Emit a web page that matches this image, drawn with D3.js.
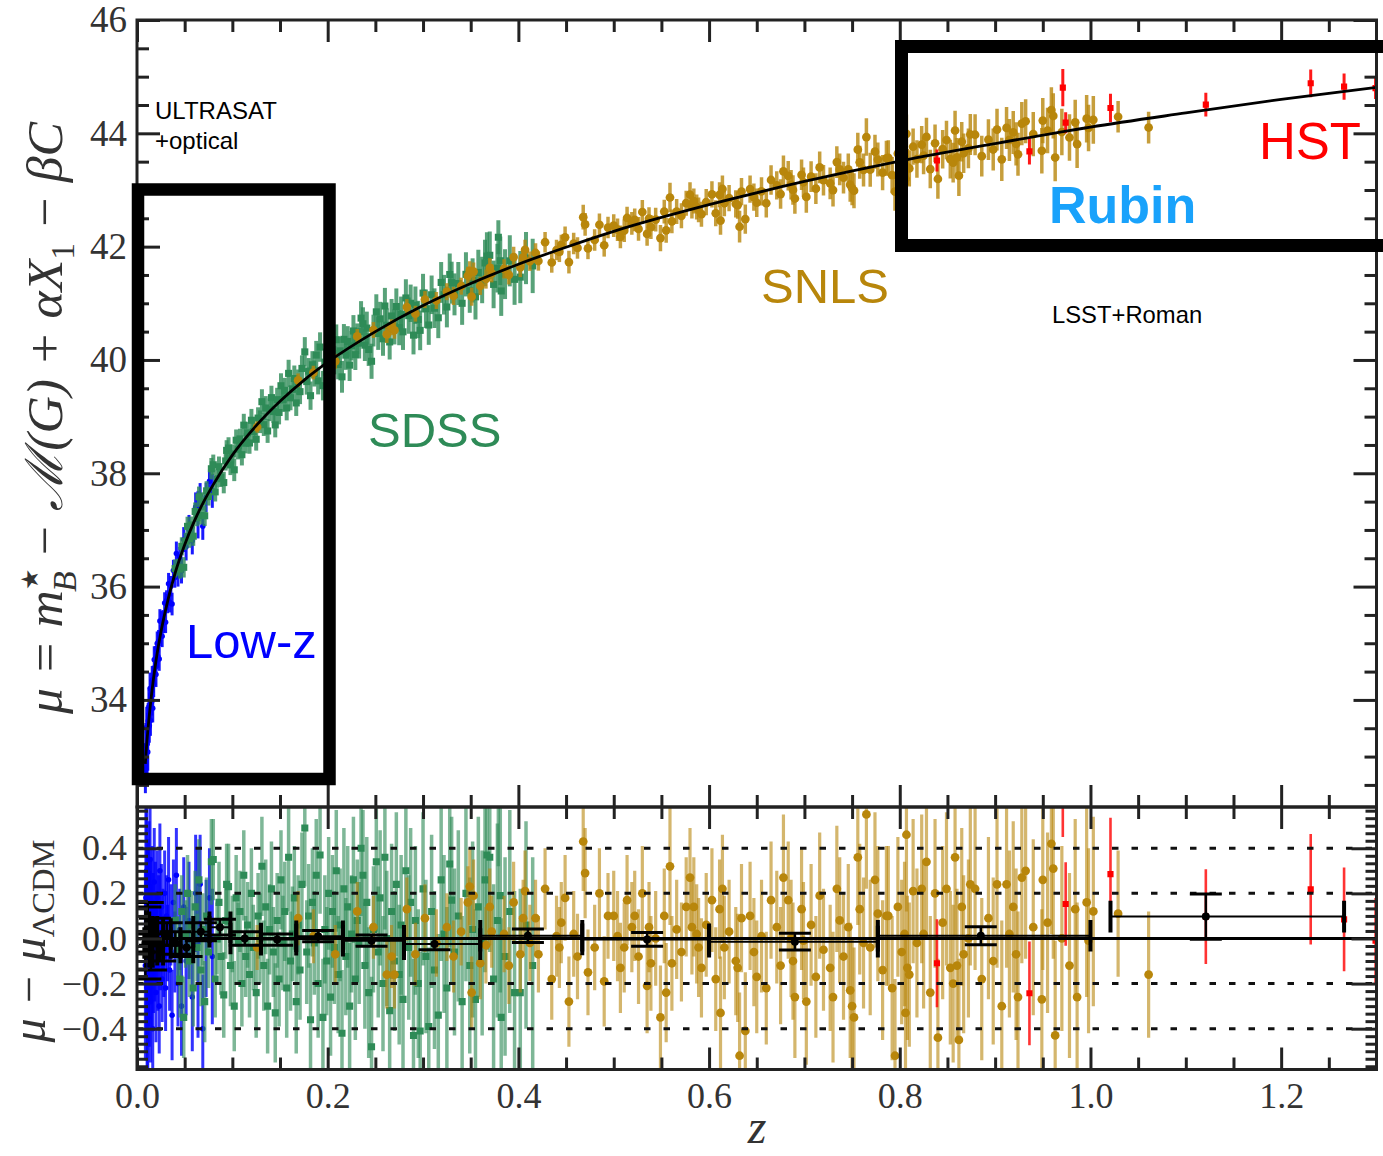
<!DOCTYPE html>
<html>
<head>
<meta charset="utf-8">
<script src="https://cdn.jsdelivr.net/npm/d3@7"></script>
<style>
  body { margin: 0; background: #fff; }
  svg { display: block; }
</style>
</head>
<body>
<svg id="chart" width="1383" height="1156"></svg>
<script>
// ---------------------------------------------------------------
// Hubble diagram of the combined SN Ia sample with residuals.
// Each supernova: [redshift z, residual mu - mu_LCDM, sigma]
// ---------------------------------------------------------------

// Best-fit LCDM distance modulus, tabulated
const modelZ  = [0.0087, 0.010, 0.0125, 0.015, 0.020, 0.025, 0.030, 0.040, 0.050, 0.060, 0.070, 0.080,
                 0.100, 0.125, 0.150, 0.175, 0.200, 0.250, 0.300, 0.350, 0.400, 0.450, 0.500,
                 0.600, 0.700, 0.800, 0.900, 1.000, 1.100, 1.200, 1.300];
const modelMu = [32.87, 33.18, 33.66, 34.06, 34.70, 35.19, 35.59, 36.24, 36.74, 37.15, 37.50, 37.80,
                 38.32, 38.84, 39.27, 39.64, 39.96, 40.50, 40.96, 41.35, 41.69, 41.99, 42.27,
                 42.74, 43.15, 43.51, 43.82, 44.11, 44.36, 44.60, 44.81];

const lowzSN = [
  [0.0088,-0.12,0.42],[0.0093,0.18,0.40],[0.0098,-0.05,0.38],[0.0102,0.30,0.36],[0.0106,-0.22,0.37],
  [0.0110,0.06,0.34],[0.0113,-0.35,0.33],[0.0117,0.12,0.32],[0.0121,-0.08,0.31],[0.0125,0.22,0.30],
  [0.0129,-0.18,0.30],[0.0133,0.02,0.28],[0.0137,0.35,0.28],[0.0141,-0.28,0.27],[0.0146,0.10,0.26],
  [0.0150,-0.02,0.26],[0.0155,-0.15,0.25],[0.0160,0.16,0.25],[0.0165,-0.40,0.25],[0.0170,0.05,0.24],
  [0.0175,-0.10,0.23],[0.0181,0.25,0.24],[0.0187,-0.06,0.22],[0.0193,0.12,0.22],[0.0199,-0.24,0.22],
  [0.0205,0.00,0.21],[0.0212,0.18,0.21],[0.0219,-0.12,0.20],[0.0226,0.08,0.20],[0.0233,-0.30,0.21],
  [0.0240,0.30,0.21],[0.0248,-0.04,0.19],[0.0256,0.14,0.19],[0.0264,-0.18,0.19],[0.0272,0.04,0.18],
  [0.0281,-0.08,0.18],[0.0290,0.20,0.19],[0.0300,-0.22,0.19],[0.0310,0.10,0.18],[0.0320,-0.02,0.17],
  [0.0331,0.26,0.19],[0.0342,-0.14,0.18],[0.0355,0.06,0.18],[0.0368,-0.34,0.20],[0.0382,0.16,0.19],
  [0.0397,-0.06,0.18],[0.0413,0.28,0.21],[0.0430,-0.20,0.19],[0.0448,0.04,0.18],[0.0467,-0.30,0.22],
  [0.0490,0.14,0.22],[0.0515,-0.10,0.24],[0.0545,0.08,0.26],[0.0580,-0.26,0.24],[0.0615,0.20,0.26],
  [0.0640,-0.02,0.42],[0.0662,0.24,0.22],[0.0690,-0.40,0.24],[0.0725,0.00,0.26],[0.0760,0.18,0.22],
  [0.0790,-0.08,0.30]
];

const sdssSN = [
  [0.040,0.08,0.16],[0.043,-0.05,0.15],[0.045,-0.18,0.17],[0.047,0.12,0.16],[0.049,-0.35,0.18],
  [0.051,0.02,0.15],[0.053,0.20,0.17],[0.055,-0.10,0.16],[0.057,0.06,0.15],[0.059,-0.22,0.17],
  [0.061,0.14,0.16],[0.063,-0.04,0.15],[0.065,0.26,0.18],[0.067,-0.14,0.16],[0.069,0.04,0.16],
  [0.071,-0.28,0.18],[0.073,0.10,0.17],[0.075,-0.06,0.16],[0.078,0.34,0.19],[0.080,0.35,0.18],
  [0.082,-0.18,0.17],[0.084,0.00,0.16],[0.086,0.16,0.18],[0.088,-0.08,0.17],[0.091,-0.25,0.19],
  [0.093,0.08,0.17],[0.094,0.24,0.18],[0.096,0.23,0.19],[0.098,-0.12,0.18],[0.100,0.02,0.17],
  [0.102,-0.30,0.20],[0.104,0.18,0.19],[0.106,-0.02,0.18],[0.108,0.12,0.18],[0.110,-0.20,0.19],
  [0.112,0.28,0.20],[0.114,-0.08,0.18],[0.116,0.06,0.19],[0.118,-0.16,0.19],[0.120,0.20,0.20],
  [0.122,-0.04,0.19],[0.125,-0.24,0.20],[0.127,0.10,0.19],[0.129,0.00,0.20],[0.131,0.32,0.22],
  [0.133,-0.12,0.20],[0.135,0.14,0.21],[0.137,-0.30,0.21],[0.139,0.04,0.20],[0.141,0.22,0.21],
  [0.143,-0.06,0.20],[0.145,-0.33,0.22],[0.147,0.08,0.21],[0.149,-0.18,0.21],[0.151,0.26,0.22],
  [0.153,-0.02,0.21],[0.155,0.12,0.22],[0.157,-0.22,0.22],[0.159,0.36,0.24],[0.161,-0.10,0.22],
  [0.163,0.02,0.21],[0.165,0.18,0.23],[0.167,-0.28,0.23],[0.169,0.06,0.22],[0.171,-0.14,0.22],
  [0.173,0.24,0.23],[0.176,0.49,0.26],[0.178,-0.06,0.23],[0.180,0.10,0.23],[0.182,-0.36,0.25],
  [0.184,0.16,0.24],[0.186,-0.02,0.23],[0.188,0.28,0.25],[0.190,-0.20,0.24],[0.192,0.37,0.26],
  [0.195,-0.35,0.26],[0.197,0.04,0.24],[0.199,-0.10,0.24],[0.201,0.20,0.25],[0.203,-0.26,0.26],
  [0.205,0.12,0.25],[0.207,-0.04,0.25],[0.209,0.30,0.27],[0.211,-0.16,0.26],[0.213,0.06,0.25],
  [0.215,-0.42,0.28],[0.217,0.22,0.27],[0.219,-0.08,0.26],[0.221,0.14,0.27],[0.223,-0.30,0.28],
  [0.225,0.02,0.26],[0.227,0.26,0.28],[0.229,-0.18,0.27],[0.231,0.08,0.27],[0.233,-0.02,0.27],
  [0.235,0.40,0.30],[0.237,0.28,0.29],[0.239,-0.12,0.28],[0.241,0.16,0.29],[0.243,-0.24,0.29],
  [0.246,-0.48,0.31],[0.248,0.04,0.28],[0.251,0.34,0.31],[0.253,-0.06,0.29],[0.255,0.18,0.30],
  [0.258,-0.20,0.30],[0.260,0.36,0.32],[0.262,0.00,0.30],[0.265,-0.32,0.31],[0.267,0.12,0.30],
  [0.270,-0.10,0.31],[0.272,0.24,0.32],[0.275,-0.16,0.31],[0.277,0.06,0.31],[0.279,-0.27,0.32],
  [0.282,0.30,0.33],[0.285,-0.04,0.32],[0.287,0.16,0.33],[0.290,-0.43,0.34],[0.292,0.08,0.33],
  [0.295,-0.20,0.33],[0.297,-0.41,0.35],[0.300,0.22,0.34],[0.303,-0.08,0.34],[0.306,-0.39,0.35],
  [0.309,0.12,0.34],[0.312,-0.14,0.35],[0.316,-0.34,0.36],[0.319,0.26,0.36],[0.322,0.02,0.35],
  [0.325,-0.22,0.36],[0.328,0.33,0.37],[0.330,0.17,0.37],[0.333,-0.06,0.37],[0.337,0.10,0.38],
  [0.341,-0.28,0.38],[0.345,0.20,0.39],[0.349,-0.12,0.39],[0.352,0.04,0.39],[0.355,-0.27,0.40],
  [0.358,0.14,0.40],[0.362,-0.02,0.41],[0.365,0.26,0.41],[0.367,0.37,0.42],[0.370,0.36,0.42],
  [0.374,-0.18,0.42],[0.378,0.08,0.43],[0.379,0.62,0.30],[0.381,0.19,0.43],[0.382,-0.35,0.44],
  [0.386,-0.08,0.44],[0.391,0.12,0.45],[0.396,-0.24,0.45],[0.402,-0.24,0.46],[0.408,0.06,0.46],
  [0.415,-0.12,0.48]
];

const snlsSN = [
  [0.126,-0.04,0.10],[0.169,0.09,0.12],[0.185,0.01,0.12],[0.208,-0.07,0.13],[0.231,0.12,0.13],
  [0.248,0.05,0.14],[0.262,-0.16,0.15],[0.267,-0.08,0.14],[0.270,-0.16,0.15],[0.283,0.13,0.14],
  [0.292,-0.07,0.14],[0.302,0.09,0.15],[0.314,-0.02,0.15],[0.325,0.05,0.15],[0.332,-0.08,0.16],
  [0.340,0.03,0.15],[0.347,0.16,0.16],[0.349,0.23,0.17],[0.351,-0.24,0.16],[0.353,0.19,0.16],
  [0.360,-0.11,0.16],[0.366,-0.03,0.17],[0.370,0.14,0.17],[0.372,0.03,0.16],[0.385,0.02,0.17],
  [0.390,-0.12,0.17],[0.395,0.16,0.18],[0.402,-0.07,0.17],[0.405,0.09,0.17],[0.407,0.21,0.18],
  [0.412,-0.02,0.17],[0.418,0.09,0.17],[0.421,-0.07,0.17],[0.428,0.22,0.18],[0.435,-0.18,0.18],
  [0.440,0.01,0.18],[0.443,-0.04,0.18],[0.445,0.07,0.18],[0.449,0.18,0.19],[0.453,-0.28,0.20],
  [0.458,0.02,0.19],[0.462,-0.08,0.19],[0.468,0.43,0.22],[0.470,0.29,0.20],[0.473,-0.15,0.19],
  [0.480,-0.04,0.19],[0.485,0.20,0.20],[0.490,-0.19,0.20],[0.494,0.10,0.19],[0.500,0.10,0.20],
  [0.504,0.01,0.20],[0.507,-0.13,0.20],[0.511,-0.04,0.20],[0.514,0.17,0.20],[0.519,0.05,0.20],
  [0.522,0.10,0.20],[0.526,-0.08,0.21],[0.530,0.20,0.21],[0.535,-0.21,0.21],[0.537,0.05,0.20],
  [0.539,-0.11,0.21],[0.544,0.00,0.21],[0.549,-0.35,0.23],[0.553,0.10,0.21],[0.555,-0.24,0.22],
  [0.559,0.32,0.26],[0.561,-0.11,0.21],[0.566,0.04,0.22],[0.571,-0.06,0.22],[0.576,0.14,0.22],
  [0.580,0.27,0.22],[0.582,0.05,0.21],[0.584,0.14,0.22],[0.587,0.02,0.22],[0.589,-0.04,0.22],
  [0.592,-0.13,0.22],[0.597,0.06,0.23],[0.603,0.17,0.23],[0.607,-0.18,0.23],[0.611,0.13,0.22],
  [0.612,-0.33,0.25],[0.614,0.22,0.24],[0.616,-0.04,0.23],[0.621,0.03,0.23],[0.628,-0.10,0.24],
  [0.630,-0.13,0.24],[0.632,-0.52,0.28],[0.634,0.09,0.24],[0.638,-0.41,0.26],[0.643,0.10,0.24],
  [0.647,-0.06,0.24],[0.650,-0.17,0.25],[0.655,0.01,0.25],[0.660,-0.22,0.25],[0.665,0.17,0.26],
  [0.671,0.05,0.25],[0.675,-0.12,0.26],[0.678,0.27,0.28],[0.683,0.17,0.26],[0.686,0.00,0.26],
  [0.688,-0.10,0.26],[0.690,-0.26,0.27],[0.697,0.13,0.27],[0.699,-0.01,0.26],[0.702,-0.28,0.28],
  [0.707,0.06,0.27],[0.712,-0.17,0.27],[0.716,0.19,0.28],[0.720,-0.05,0.27],[0.727,-0.13,0.28],
  [0.730,-0.26,0.29],[0.734,0.22,0.28],[0.737,0.08,0.28],[0.741,-0.08,0.28],[0.746,0.05,0.28],
  [0.748,-0.23,0.30],[0.750,-0.30,0.30],[0.752,-0.35,0.31],[0.756,0.36,0.30],[0.758,0.13,0.29],
  [0.762,-0.02,0.29],[0.765,0.55,0.33],[0.769,-0.04,0.30],[0.774,0.26,0.30],[0.777,0.11,0.30],
  [0.782,-0.14,0.31],[0.786,0.10,0.31],[0.788,0.10,0.31],[0.792,-0.22,0.32],[0.795,-0.52,0.34],
  [0.798,0.14,0.31],[0.802,-0.06,0.32],[0.805,0.02,0.32],[0.806,-0.33,0.33],[0.807,0.46,0.34],
  [0.808,-0.13,0.32],[0.810,-0.16,0.32],[0.814,0.21,0.32],[0.818,-0.02,0.33],[0.823,0.22,0.33],
  [0.825,0.02,0.33],[0.828,0.34,0.34],[0.832,-0.24,0.34],[0.837,0.20,0.33],[0.840,-0.44,0.35],
  [0.845,0.07,0.34],[0.849,0.22,0.34],[0.853,-0.13,0.34],[0.856,-0.20,0.35],[0.858,0.36,0.35],
  [0.860,-0.12,0.34],[0.862,-0.45,0.36],[0.865,0.14,0.35],[0.867,-0.07,0.35],[0.872,0.00,0.35],
  [0.874,0.24,0.36],[0.879,0.22,0.36],[0.886,-0.18,0.36],[0.893,0.09,0.36],[0.898,-0.10,0.37],
  [0.902,0.24,0.37],[0.907,-0.30,0.38],[0.912,0.24,0.37],[0.915,0.02,0.37],[0.919,0.14,0.38],
  [0.922,-0.07,0.38],[0.924,-0.26,0.38],[0.928,0.27,0.38],[0.932,0.30,0.39],[0.940,0.05,0.39],
  [0.949,-0.27,0.40],[0.950,0.26,0.40],[0.955,0.07,0.40],[0.959,0.42,0.40],[0.961,0.31,0.40],
  [0.963,-0.43,0.42],[0.970,0.00,0.41],[0.978,-0.12,0.41],[0.984,0.13,0.40],[0.986,-0.26,0.42],
  [0.996,0.16,0.42],[0.998,-0.01,0.41],[1.003,0.12,0.42],[1.029,0.11,0.28],[1.061,-0.16,0.28]
];

const hstSN = [
  [0.839,-0.11,0.195],[0.936,-0.243,0.23],[0.971,0.78,0.33],[0.974,0.153,0.185],[1.021,0.285,0.25],
  [1.121,0.097,0.21],[1.231,0.218,0.245],[1.266,0.085,0.23],[1.299,-0.01,0.19]
];

// Weighted mean residuals in log-redshift bins: [zLow, zHigh, zCentre, mean, error]
const binnedResiduals = [
  [0.0077,0.0099,0.0088,-0.02,0.16],[0.0099,0.0128,0.0113,0.05,0.11],[0.0128,0.0165,0.0146,-0.06,0.08],
  [0.0165,0.0212,0.0188,0.03,0.06],[0.0212,0.0274,0.0243,-0.05,0.05],[0.0274,0.0354,0.0312,0.02,0.05],
  [0.0354,0.0456,0.0402,-0.02,0.05],[0.0456,0.059,0.052,-0.04,0.04],[0.059,0.076,0.067,0.03,0.04],
  [0.076,0.098,0.087,0.05,0.035],[0.098,0.130,0.113,0.00,0.03],[0.130,0.167,0.147,-0.005,0.025],
  [0.167,0.216,0.190,0.01,0.025],[0.216,0.280,0.246,-0.01,0.025],[0.280,0.360,0.312,-0.025,0.025],
  [0.360,0.467,0.410,0.012,0.03],[0.467,0.600,0.535,-0.004,0.03],[0.600,0.777,0.690,-0.014,0.037],
  [0.777,1.000,0.885,0.012,0.04],[1.021,1.266,1.121,0.097,0.10]
];

// Axis ticks
const zTicks   = [0, 0.2, 0.4, 0.6, 0.8, 1.0, 1.2];
const muTicks  = [34, 36, 38, 40, 42, 44, 46];
const resTicks = [-0.4, -0.2, 0, 0.2, 0.4];
const resGrid  = [-0.4, -0.2, 0.2, 0.4];

// ---------------------------------------------------------------
const svg = d3.select("#chart");
const L = 137, R = 1376.5, T = 20, MID = 807, B = 1069.5;

const x = d3.scaleLinear().domain([0, 1.3]).range([L, R]);
const yTop = d3.scaleLinear().domain([32.11, 46]).range([MID, T]);
const yRes = d3.scaleLinear().domain([-0.581, 0.583]).range([B, MID]);
const muModel = d3.scaleLinear().domain(modelZ).range(modelMu);

const defs = svg.append("defs");
defs.append("clipPath").attr("id", "clipTop").append("rect")
  .attr("x", L).attr("y", T).attr("width", R - L).attr("height", MID - T);
defs.append("clipPath").attr("id", "clipBot").append("rect")
  .attr("x", L).attr("y", MID).attr("width", R - L).attr("height", B - MID);

const gTop = svg.append("g").attr("clip-path", "url(#clipTop)");
const gBot = svg.append("g").attr("clip-path", "url(#clipBot)");

// per-survey styling: marker shape, bar opacity/width in the top and residual panels
const surveys = [
  { rows: lowzSN, color: "#0000ff", shape: d3.symbolCircle, size: 24,
    top: { op: 0.9, bw: 3 }, bot: { op: 0.8, bw: 3 } },
  { rows: sdssSN, color: "#2e8b57", shape: d3.symbolSquare, size: 50,
    top: { op: 0.8, bw: 4 }, bot: { op: 0.62, bw: 3.5 } },
  { rows: snlsSN, color: "#b8860b", shape: d3.symbolCircle, size: 60,
    top: { op: 0.8, bw: 3.5 }, bot: { op: 0.6, bw: 3.2 } },
  { rows: hstSN,  color: "#ff0000", shape: d3.symbolSquare, size: 38,
    top: { op: 0.9, bw: 3 }, bot: { op: 0.8, bw: 2.6 } }
];

function drawSurvey(g, s, st, yOf) {
  g.append("g").selectAll("line").data(s.rows).join("line")
    .attr("x1", d => x(d[0])).attr("x2", d => x(d[0]))
    .attr("y1", d => yOf(d, -1)).attr("y2", d => yOf(d, 1))
    .attr("stroke", s.color).attr("stroke-width", st.bw).attr("stroke-opacity", st.op);
  g.append("g").selectAll("path").data(s.rows).join("path")
    .attr("d", d3.symbol().type(s.shape).size(s.size))
    .attr("transform", d => `translate(${x(d[0])},${yOf(d, 0)})`)
    .attr("fill", s.color);
}

// Top panel: distance modulus
surveys.forEach(s => drawSurvey(gTop, s, s.top, (d, k) => yTop(muModel(d[0]) + d[1] + k * d[2])));
const modelLine = d3.line().x(d => x(d[0])).y(d => yTop(d[1])).curve(d3.curveMonotoneX);
gTop.append("path")
  .attr("d", modelLine(modelZ.map((z, i) => [z, modelMu[i]])))
  .attr("fill", "none").attr("stroke", "#000").attr("stroke-width", 2.8);

// Bottom panel: residuals
surveys.forEach(s => drawSurvey(gBot, s, s.bot, (d, k) => yRes(d[1] + k * d[2])));
gBot.append("g").selectAll("line").data(resGrid).join("line")
  .attr("x1", L).attr("x2", R).attr("y1", d => yRes(d)).attr("y2", d => yRes(d))
  .attr("stroke", "#111").attr("stroke-width", 3).attr("stroke-dasharray", "6.5,13");
gBot.append("path")
  .attr("d", d3.line()(x.domain().map(z => [x(z), yRes(0)])))
  .attr("stroke", "#000").attr("stroke-width", 3);

// Binned residuals
const gBins = gBot.append("g").attr("stroke", "#000");
binnedResiduals.forEach(([lo, hi, zc, m, e]) => {
  gBins.append("line").attr("x1", x(lo)).attr("x2", x(hi)).attr("y1", yRes(m)).attr("y2", yRes(m))
    .attr("stroke-width", 2);
  [lo, hi].forEach(zb => gBins.append("line")
    .attr("x1", x(zb)).attr("x2", x(zb)).attr("y1", yRes(m - 0.07)).attr("y2", yRes(m + 0.07))
    .attr("stroke-width", 4));
  gBins.append("line").attr("x1", x(zc)).attr("x2", x(zc)).attr("y1", yRes(m - e)).attr("y2", yRes(m + e))
    .attr("stroke-width", 2.5);
  [m - e, m + e].forEach(v => gBins.append("line")
    .attr("x1", x(zc) - 16).attr("x2", x(zc) + 16).attr("y1", yRes(v)).attr("y2", yRes(v))
    .attr("stroke-width", 3));
  gBins.append("circle").attr("cx", x(zc)).attr("cy", yRes(m)).attr("r", 4).attr("fill", "#000").attr("stroke", "none");
});

// ---------------------------------------------------------------
// Axes and frame
function styleAxis(g, size) {
  g.select(".domain").remove();
  g.attr("color", "#222");
  g.selectAll(".tick line").attr("stroke-width", 3);
  g.selectAll("text").attr("fill", "#333").attr("font-size", size)
    .attr("font-family", "'Liberation Serif', 'Times New Roman', serif");
}
const muMinor = d3.range(65, 92).map(i => i / 2).filter(v => v % 2 !== 0);
const zMinor = d3.range(1, 26).filter(i => i % 4 !== 0).map(i => i * 0.05);
const resMinor = d3.range(-17, 18).filter(i => i % 6 !== 0).map(i => i * 0.2 / 6);
const none = () => "";

// top panel
svg.append("g").attr("transform", `translate(${L},0)`)
  .call(d3.axisLeft(yTop).tickValues(muTicks).tickSize(-23).tickPadding(10).tickFormat(d3.format("d")))
  .call(g => styleAxis(g, 37));
svg.append("g").attr("transform", `translate(${L},0)`)
  .call(d3.axisLeft(yTop).tickValues(muMinor).tickSize(-12).tickFormat(none)).call(g => styleAxis(g, 1));
svg.append("g").attr("transform", `translate(${R},0)`)
  .call(d3.axisRight(yTop).tickValues(muTicks).tickSize(-23).tickFormat(none)).call(g => styleAxis(g, 1));
svg.append("g").attr("transform", `translate(${R},0)`)
  .call(d3.axisRight(yTop).tickValues(muMinor).tickSize(-12).tickFormat(none)).call(g => styleAxis(g, 1));
[[T, d3.axisTop], [MID, d3.axisBottom]].forEach(([yy, ax]) => {
  svg.append("g").attr("transform", `translate(0,${yy})`)
    .call(ax(x).tickValues(zTicks).tickSize(-22).tickFormat(none)).call(g => styleAxis(g, 1));
  svg.append("g").attr("transform", `translate(0,${yy})`)
    .call(ax(x).tickValues(zMinor).tickSize(-12).tickFormat(none)).call(g => styleAxis(g, 1));
});

// bottom panel
[[MID, d3.axisTop], [B, d3.axisBottom]].forEach(([yy, ax]) => {
  const maj = ax(x).tickValues(zTicks).tickSize(-22);
  if (yy === B) maj.tickPadding(13).tickFormat(d3.format(".1f")); else maj.tickFormat(none);
  svg.append("g").attr("transform", `translate(0,${yy})`).call(maj).call(g => styleAxis(g, 36));
  svg.append("g").attr("transform", `translate(0,${yy})`)
    .call(ax(x).tickValues(zMinor).tickSize(-12).tickFormat(none)).call(g => styleAxis(g, 1));
});
svg.append("g").attr("transform", `translate(${L},0)`)
  .call(d3.axisLeft(yRes).tickValues(resTicks).tickSize(-25).tickPadding(10).tickFormat(d3.format(".1f")))
  .call(g => styleAxis(g, 36));
svg.append("g").attr("transform", `translate(${L},0)`)
  .call(d3.axisLeft(yRes).tickValues(resMinor).tickSize(-11).tickFormat(none)).call(g => styleAxis(g, 1));
svg.append("g").attr("transform", `translate(${R},0)`)
  .call(d3.axisRight(yRes).tickValues(resTicks).tickSize(-25).tickFormat(none)).call(g => styleAxis(g, 1));
svg.append("g").attr("transform", `translate(${R},0)`)
  .call(d3.axisRight(yRes).tickValues(resMinor).tickSize(-11).tickFormat(none)).call(g => styleAxis(g, 1));

svg.append("rect").attr("x", L).attr("y", T).attr("width", R - L).attr("height", MID - T)
  .attr("fill", "none").attr("stroke", "#222").attr("stroke-width", 3);
svg.append("rect").attr("x", L).attr("y", MID).attr("width", R - L).attr("height", B - MID)
  .attr("fill", "none").attr("stroke", "#222").attr("stroke-width", 3);

// Axis titles
const serif = "'Liberation Serif', 'Times New Roman', serif";
// scale a rotated title to a given length, then nudge it inside the left edge
function fitLabel(g, text, length, cx, cy) {
  const w = text.node().getComputedTextLength();
  text.attr("transform", `scale(${length / w})`);
  g.attr("transform", `translate(${cx},${cy}) rotate(-90)`);
  const box = g.node().getBoundingClientRect();
  if (box.left < 2) g.attr("transform", `translate(${cx + 2 - box.left},${cy}) rotate(-90)`);
}
{
  const g = svg.append("g");
  const t = g.append("text").attr("font-family", serif).attr("font-style", "italic")
    .attr("font-size", 52).attr("fill", "#333").attr("text-anchor", "middle");
  t.append("tspan").text("μ = m");
  const star = t.append("tspan").attr("font-size", 24).attr("font-style", "normal")
    .attr("font-family", "'DejaVu Sans', sans-serif").attr("dy", -24).text("★");
  const sub = t.append("tspan").attr("font-size", 34).attr("dy", 38).text("B");
  sub.attr("dx", -star.node().getComputedTextLength() - 2);
  t.append("tspan").attr("font-size", 52).attr("dy", -14).text(" − ℳ(G) + αX");
  t.append("tspan").attr("font-size", 34).attr("dy", 12).attr("font-style", "normal").text("1");
  t.append("tspan").attr("font-size", 52).attr("dy", -12).text(" − βC");
  fitLabel(g, t, 615, 62, 418);
}
{
  const g = svg.append("g");
  const t = g.append("text").attr("font-family", serif).attr("font-style", "italic")
    .attr("font-size", 46).attr("fill", "#333").attr("text-anchor", "middle");
  t.append("tspan").text("μ − μ");
  t.append("tspan").attr("font-size", 31).attr("font-style", "normal").attr("dy", 9).text("ΛCDM");
  fitLabel(g, t, 203, 41, 941);
}
svg.append("text").attr("x", 757).attr("y", 1143).attr("text-anchor", "middle")
  .attr("font-family", serif).attr("font-style", "italic").attr("font-size", 48).attr("fill", "#333").text("z");

// ---------------------------------------------------------------
// Survey names and mission boxes
const sans = "'Liberation Sans', Arial, sans-serif";
const labels = [
  { t: "Low-z", x: 186, y: 658, s: 49, c: "#0000ff" },
  { t: "SDSS", x: 368, y: 447, s: 49, c: "#2e8b57" },
  { t: "SNLS", x: 761, y: 303, s: 49, c: "#b8860b" },
  { t: "HST", x: 1259, y: 159, s: 51, c: "#ff0000" },
  { t: "Rubin", x: 1049, y: 223, s: 52, c: "#19a2fb", w: "bold" },
  { t: "ULTRASAT", x: 155, y: 119, s: 24, c: "#000" },
  { t: "+optical", x: 155, y: 149, s: 24, c: "#000" },
  { t: "LSST+Roman", x: 1052, y: 323, s: 23.8, c: "#000" }
];
svg.append("g").selectAll("text").data(labels).join("text")
  .attr("x", d => d.x).attr("y", d => d.y).attr("font-size", d => d.s)
  .attr("font-weight", d => d.w || "normal").attr("fill", d => d.c)
  .attr("font-family", sans).text(d => d.t);

svg.append("rect").attr("x", 138).attr("y", 189.5).attr("width", 191.5).attr("height", 589.5)
  .attr("fill", "none").attr("stroke", "#000").attr("stroke-width", 12.5);
svg.append("rect").attr("x", 901.5).attr("y", 46.5).attr("width", 600).attr("height", 199)
  .attr("fill", "none").attr("stroke", "#000").attr("stroke-width", 13);
</script>
</body>
</html>
